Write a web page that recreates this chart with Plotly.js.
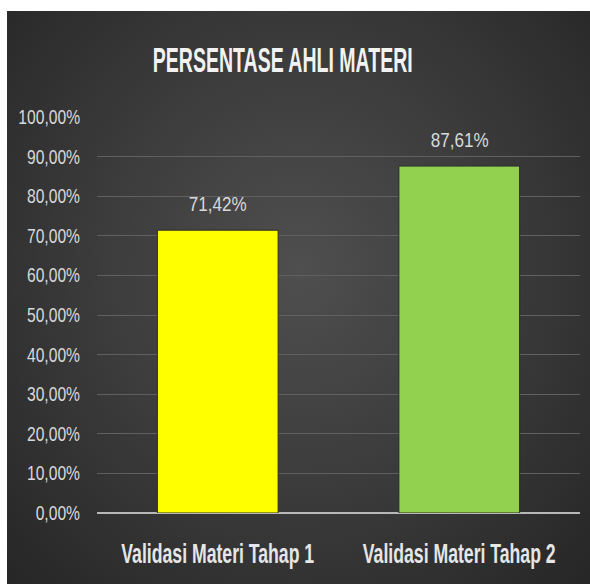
<!DOCTYPE html>
<html>
<head>
<meta charset="utf-8">
<script src="https://cdn.plot.ly/plotly-3.0.1.min.js"></script>
<style>
html,body{margin:0;padding:0;background:#ffffff;width:590px;height:584px;overflow:hidden;}
#chart{position:absolute;left:7px;top:11px;width:583px;height:573px;
background:radial-gradient(ellipse at 50% 45%, #4f4f4f 0%, #3d3d3d 45%, #262626 100%);}
</style>
</head>
<body>
<div id="chart"></div>
<script>
const categories = ["Validasi Materi Tahap 1", "Validasi Materi Tahap 2"];
const values = [71.42, 87.61];
const valueLabels = ["71,42%", "87,61%"];
const barColors = ["#FFFF00", "#92D050"];
const tickValues = [0,10,20,30,40,50,60,70,80,90,100];
const tickLabels = ["0,00%","10,00%","20,00%","30,00%","40,00%","50,00%","60,00%","70,00%","80,00%","90,00%","100,00%"];
const chartTitle = "PERSENTASE AHLI MATERI";

const FONT = "Liberation Sans, Arial, sans-serif";

const trace = {
  type: "bar",
  x: categories,
  y: values,
  marker: {color: barColors, line: {color: "#2a2a2a", width: 1}},
  hoverinfo: "skip"
};

const annotations = categories.map((c, i) => ({
  x: c, y: values[i], xref: "x", yref: "y",
  text: valueLabels[i], showarrow: false,
  yanchor: "bottom", yshift: 13,
  font: {family: FONT, size: 21, color: "#d9d9d9"}
}));

const layout = {
  width: 583, height: 573,
  paper_bgcolor: "rgba(0,0,0,0)",
  plot_bgcolor: "rgba(0,0,0,0)",
  margin: {l: 90, r: 10, t: 106, b: 71},
  bargap: 0.5,
  showlegend: false,
  title: {
    text: chartTitle,
    x: 0.473, xref: "container", xanchor: "center",
    y: 0.915, yref: "container", yanchor: "middle",
    font: {family: FONT, size: 35, weight: 700, color: "#f2f2f2"}
  },
  xaxis: {
    tickangle: 0,
    tickfont: {family: FONT, size: 27, weight: 700, color: "#e6e6e6"},
    showgrid: false, showline: false, zeroline: false,
    ticks: "outside", ticklen: 17, tickcolor: "rgba(0,0,0,0)"
  },
  yaxis: {
    range: [0, 100],
    tickmode: "array",
    tickvals: tickValues,
    ticktext: tickLabels,
    tickfont: {family: FONT, size: 20, color: "#d9d9d9"},
    showgrid: true, gridcolor: "#606060", gridwidth: 1,
    zeroline: true, zerolinecolor: "#b8b8b8", zerolinewidth: 2,
    showline: false,
    ticks: "outside", ticklen: 12, tickcolor: "rgba(0,0,0,0)"
  },
  annotations: annotations
};

function squeezeAll(nodes, targetWidth, anchor) {
  const els = Array.from(nodes);
  if (!els.length) return;
  const maxW = Math.max(...els.map(e => e.getBBox().width));
  const s = targetWidth / maxW;
  els.forEach(el => {
    const b = el.getBBox();
    const cx = anchor === "right" ? b.x + b.width : b.x + b.width / 2;
    const prev = el.getAttribute("transform") || "";
    el.setAttribute("transform", prev + " translate(" + cx + ",0) scale(" + s + ",1) translate(" + (-cx) + ",0)");
  });
}

Plotly.newPlot("chart", [trace], layout, {staticPlot: true, displayModeBar: false}).then(gd => {
  squeezeAll(gd.querySelectorAll(".gtitle"), 260, "center");
  squeezeAll(gd.querySelectorAll(".xtick text"), 193, "center");
  squeezeAll(gd.querySelectorAll(".ytick text"), 62, "right");
  squeezeAll(gd.querySelectorAll(".annotation-text"), 58, "center");
});
</script>
</body>
</html>
